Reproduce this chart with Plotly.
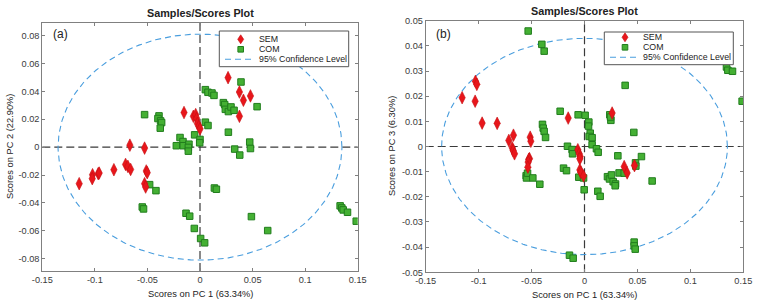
import numpy as np
import plotly.graph_objects as go

# ---------------- data ----------------
# Panel (a): PC1 vs PC2
a_sem_x = [-0.0667, -0.0527, -0.0152, -0.0063, -0.0041, -0.0032, -0.0025, -0.0010, 0.0000,
           0.0267, 0.0375, 0.0413, 0.0480, 0.0375,
           -0.1149, -0.1022, -0.1025, -0.0968, -0.0959, -0.0819, -0.0708, -0.0686, -0.0660,
           -0.0511, -0.0502, -0.0527, -0.0517]
a_sem_y = [0.0014, -0.0007, 0.0248, 0.0221, 0.0233, 0.0205, 0.0169, 0.0150, 0.0131,
           0.0498, 0.0395, 0.0336, 0.0367, 0.0221,
           -0.0262, -0.0198, -0.0226, -0.0190, -0.0186, -0.0162, -0.0124, -0.0138, -0.0160,
           -0.0171, -0.0183, -0.0262, -0.0286]
a_com_x = [-0.0527, -0.0390, -0.0400, -0.0375, -0.0365, -0.0378, -0.0190, -0.0162, -0.0225,
           -0.0159, -0.0105, -0.0111, -0.0111, -0.0051, 0.0000, -0.0003, 0.0051, 0.0076,
           0.0114, 0.0133, 0.0051, 0.0076, 0.0222, 0.0235, 0.0241, 0.0270, 0.0295, 0.0324,
           0.0390, 0.0543, 0.0270, 0.0330, 0.0378, 0.0473, 0.0480,
           -0.0479, -0.0419, -0.0549, -0.0537, -0.0133, -0.0098, -0.0054, 0.0006, 0.0044,
           0.0137, 0.0156, 0.0489, 0.0644, 0.1333, 0.1349, 0.1362, 0.1403, 0.1486]
a_com_y = [0.0233, 0.0224, 0.0205, 0.0188, 0.0176, 0.0136, 0.0069, 0.0040, 0.0010,
           0.0010, 0.0021, -0.0002, -0.0029, 0.0088, 0.0055, 0.0031, 0.0412, 0.0393,
           0.0388, 0.0371, 0.0179, 0.0155, 0.0319, 0.0305, 0.0271, 0.0255, 0.0288, 0.0264,
           0.0467, 0.0290, 0.0107, -0.0014, -0.0057, 0.0036, -0.0010,
           -0.0269, -0.0312, -0.0429, -0.0443, -0.0474, -0.0495, -0.0583, -0.0655, -0.0686,
           -0.0293, -0.0302, -0.0498, -0.0598, -0.0421, -0.0436, -0.0450, -0.0467, -0.0531]

# Panel (b): PC1 vs PC3
b_sem_x = [-0.1156, -0.1030, -0.1017, -0.1033, -0.0967, -0.0825, -0.0715, -0.0671, -0.0513,
           -0.0507, -0.0154, 0.0261, -0.0520,
           -0.0683, -0.0674, -0.0661, -0.0526, -0.0532, -0.0535, -0.0063, -0.0050, -0.0041,
           -0.0044, -0.0044, -0.0035, -0.0009, 0.0375, 0.0403, 0.0472]
b_sem_y = [0.0194, 0.0259, 0.0247, 0.0180, 0.0093, 0.0092, 0.0024, 0.0045, 0.0037,
           0.0021, 0.0113, 0.0133, -0.0048,
           -0.0005, -0.0016, -0.0029, -0.0051, -0.0062, -0.0082, -0.0013, -0.0029, -0.0040,
           -0.0049, -0.0093, -0.0102, -0.0117, -0.0080, -0.0105, -0.0076]
b_com_x = [-0.0532, -0.0403, -0.0381, 0.1341, 0.1354, 0.1398, 0.1489, 0.0384, -0.0230,
           -0.0060, 0.0006, -0.0397, -0.0390, -0.0381, -0.0368, 0.0041, 0.0038, 0.0054,
           0.0044, 0.0072, 0.0072, 0.0239, 0.0249, 0.0246, 0.0466, -0.0161, -0.0117,
           -0.0113, 0.0113, 0.0129, 0.0315, 0.0538,
           -0.0551, -0.0548, -0.0538, -0.0488, -0.0422, -0.0198, -0.0170, -0.0054, -0.0009,
           -0.0003, 0.0126, 0.0148, 0.0217, 0.0236, 0.0255, 0.0271, 0.0293, 0.0290, 0.0327,
           0.0375, 0.0482, 0.0485, 0.0469, 0.0469, 0.0479, -0.0142, -0.0107, 0.0639]
b_com_y = [0.0459, 0.0406, 0.0379, 0.0316, 0.0303, 0.0299, 0.0180, 0.0243, 0.0140,
           0.0126, 0.0124, 0.0088, 0.0073, 0.0060, 0.0036, 0.0097, 0.0081, 0.0053,
           0.0040, 0.0035, 0.0007, 0.0126, 0.0104, 0.0117, 0.0056, 0.0001, -0.0012,
           -0.0029, -0.0009, -0.0023, -0.0037, -0.0040,
           -0.0116, -0.0125, -0.0106, -0.0125, -0.0150, -0.0086, -0.0096, -0.0122, -0.0125,
           -0.0172, -0.0178, -0.0198, -0.0120, -0.0129, -0.0113, -0.0140, -0.0149, -0.0156,
           -0.0105, -0.0106, -0.0065, -0.0078, -0.0380, -0.0395, -0.0408, -0.0432, -0.0444,
           -0.0137]

# 95% confidence ellipse semi-axes
ell_a = (0.135, 0.081)
ell_b = (0.135, 0.043)

legend_labels = ["SEM", "COM", "95% Confidence Level"]
x_ticks = [-0.15, -0.1, -0.05, 0, 0.05, 0.1, 0.15]
x_labels = ["-0.15", "-0.1", "-0.05", "0", "0.05", "0.1", "0.15"]
ya_ticks = [-0.08, -0.06, -0.04, -0.02, 0, 0.02, 0.04, 0.06, 0.08]
ya_labels = ["-0.08", "-0.06", "-0.04", "-0.02", "0", "0.02", "0.04", "0.06", "0.08"]
yb_ticks = [-0.05, -0.04, -0.03, -0.02, -0.01, 0, 0.01, 0.02, 0.03, 0.04, 0.05]
yb_labels = ["-0.05", "-0.04", "-0.03", "-0.02", "-0.01", "0", "0.01", "0.02", "0.03", "0.04", "0.05"]

# ---------------- styling ----------------
FONT = "Liberation Sans, Arial, sans-serif"
RED = "#e8161b"
RED_EDGE = "#c40f12"
GREEN = "#44b033"
GREEN_EDGE = "#217d1d"
ELL = "#4a9ede"
TXT = "#3a3a3a"
W, H = 759, 304

fig = go.Figure()
t = np.linspace(0, 2 * np.pi, 400)


def px(x):
    return x / W


def py(y):
    return 1 - y / H


def add_panel(xs_sem, ys_sem, xs_com, ys_com, ell, xa, ya):
    fig.add_trace(go.Scatter(x=ell[0] * np.cos(t), y=ell[1] * np.sin(t), mode="lines",
                             name=legend_labels[2], xaxis=xa, yaxis=ya, showlegend=False,
                             line=dict(color=ELL, width=1.1, dash="6px,4px")))
    fig.add_trace(go.Scatter(x=xs_com, y=ys_com, mode="markers", name=legend_labels[1],
                             xaxis=xa, yaxis=ya, showlegend=False,
                             marker=dict(symbol="square", size=6.5, color=GREEN,
                                         line=dict(color=GREEN_EDGE, width=1))))
    fig.add_trace(go.Scatter(x=xs_sem, y=ys_sem, mode="markers", name=legend_labels[0],
                             xaxis=xa, yaxis=ya, showlegend=False,
                             marker=dict(symbol="diamond-tall", size=9, color=RED,
                                         line=dict(color=RED_EDGE, width=0.6))))


add_panel(a_sem_x, a_sem_y, a_com_x, a_com_y, ell_a, "x", "y")
add_panel(b_sem_x, b_sem_y, b_com_x, b_com_y, ell_b, "x2", "y2")

# zero dashed lines
for xr, yr in (("x", "y"), ("x2", "y2")):
    fig.add_shape(type="line", xref=xr, yref=yr + " domain", x0=0, x1=0, y0=0, y1=1,
                  line=dict(color="#3a3a3a", width=1.2, dash="8px,4px"), layer="below")
    fig.add_shape(type="line", xref=xr + " domain", yref=yr, x0=0, x1=1, y0=0, y1=0,
                  line=dict(color="#3a3a3a", width=1.2, dash="8px,4px"), layer="below")


# manual legends (pixel layout)
def add_legend(box, ys, mx, tx, lx):
    x0, y0, x1, y1 = box
    fig.add_shape(type="rect", xref="paper", yref="paper", x0=px(x0), x1=px(x1),
                  y0=py(y1), y1=py(y0), fillcolor="white",
                  line=dict(color="#555555", width=1), layer="above")
    yc = ys[0]
    fig.add_shape(type="path", xref="paper", yref="paper",
                  path=f"M {px(mx)} {py(yc - 4.5)} L {px(mx + 3)} {py(yc)} "
                       f"L {px(mx)} {py(yc + 4.5)} L {px(mx - 3)} {py(yc)} Z",
                  fillcolor=RED, line=dict(color=RED_EDGE, width=0.6), layer="above")
    yc = ys[1]
    fig.add_shape(type="rect", xref="paper", yref="paper", x0=px(mx - 2.8), x1=px(mx + 2.8),
                  y0=py(yc + 2.8), y1=py(yc - 2.8), fillcolor=GREEN,
                  line=dict(color=GREEN_EDGE, width=1), layer="above")
    yc = ys[2]
    fig.add_shape(type="line", xref="paper", yref="paper", x0=px(lx[0]), x1=px(lx[1]),
                  y0=py(yc), y1=py(yc), line=dict(color=ELL, width=1.1, dash="6px,4px"),
                  layer="above")
    for lab, yv in zip(legend_labels, ys):
        fig.add_annotation(text=lab, x=px(tx), y=py(yv), xref="paper", yref="paper",
                           showarrow=False, xanchor="left", yanchor="middle", borderpad=0,
                           font=dict(family=FONT, size=8.8, color="#222222"))


add_legend((219.3, 31, 348.7, 66.7), (39.3, 49.3, 59.3), 240.7, 258, (225, 255))
add_legend((604.3, 32, 733.3, 64.7), (37.3, 47.3, 57.3), 625, 642, (610, 639))

axis_common = dict(showgrid=False, zeroline=False, showline=True, mirror="ticks",
                   linecolor="#808080", linewidth=1, ticks="inside", ticklen=3,
                   tickcolor="#808080", automargin=False,
                   tickfont=dict(family=FONT, size=9.2, color=TXT))

fig.update_layout(
    width=W, height=H,
    margin=dict(l=0, r=0, t=0, b=0, autoexpand=False),
    paper_bgcolor="white", plot_bgcolor="white",
    showlegend=False,
    xaxis=dict(axis_common, domain=[42.3 / W, 357.7 / W], range=[-0.15, 0.15],
               tickvals=x_ticks, ticktext=x_labels, anchor="y"),
    yaxis=dict(axis_common, domain=[(H - 271) / H, (H - 22.7) / H], range=[-0.0888, 0.0892],
               tickvals=ya_ticks, ticktext=ya_labels, anchor="x"),
    xaxis2=dict(axis_common, domain=[425.7 / W, 743.3 / W], range=[-0.15, 0.15],
                tickvals=x_ticks, ticktext=x_labels, anchor="y2"),
    yaxis2=dict(axis_common, domain=[(H - 272.3) / H, (H - 20.7) / H], range=[-0.05, 0.05],
                tickvals=yb_ticks, ticktext=yb_labels, anchor="x2"),
)

ann = [
    dict(text="<b>Samples/Scores Plot</b>", x=200, y=12.7, size=10.8),
    dict(text="<b>Samples/Scores Plot</b>", x=584.5, y=11, size=10.8),
    dict(text="Scores on PC 1 (63.34%)", x=200.5, y=294.3, size=9.3),
    dict(text="Scores on PC 1 (63.34%)", x=584.5, y=294.5, size=9.3),
    dict(text="(a)", x=60, y=34, size=12),
    dict(text="(b)", x=444, y=34, size=12),
]
for a in ann:
    fig.add_annotation(text=a["text"], x=px(a["x"]), y=py(a["y"]), xref="paper", yref="paper",
                       showarrow=False, xanchor="center", yanchor="middle",
                       font=dict(family=FONT, size=a["size"], color="#222222"))
fig.add_annotation(text="Scores on PC 2 (22.90%)", x=px(10), y=py(147), xref="paper",
                   yref="paper", showarrow=False, textangle=-90, xanchor="center",
                   yanchor="middle", font=dict(family=FONT, size=9.3, color="#222222"))
fig.add_annotation(text="Scores on PC 3 (6.30%)", x=px(392), y=py(146), xref="paper",
                   yref="paper", showarrow=False, textangle=-90, xanchor="center",
                   yanchor="middle", font=dict(family=FONT, size=9.3, color="#222222"))

fig.write_html("out.html", config={"displayModeBar": False},
               post_script="document.body.style.margin='0';document.body.style.overflow='hidden';")
